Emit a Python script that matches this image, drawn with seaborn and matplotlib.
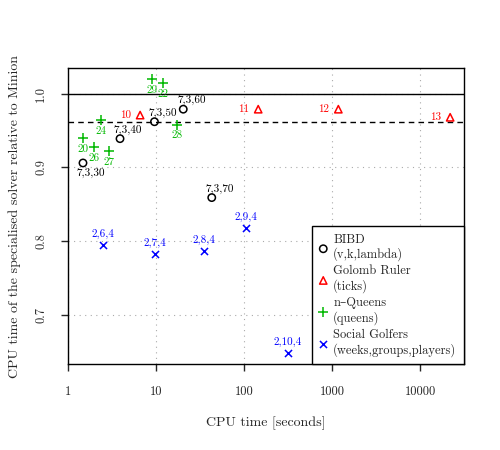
import numpy as np
import pandas as pd
import seaborn as sns
import matplotlib.pyplot as plt

# BIBD (v,k,lambda)
bibd_time = [1.48, 3.9, 9.6, 20.4, 43.0]
bibd_ratio = [0.906, 0.939, 0.962, 0.979, 0.859]
bibd_names = ["7,3,30", "7,3,40", "7,3,50", "7,3,60", "7,3,70"]

# Golomb ruler (ticks)
golomb_time = [6.6, 145, 1180, 22000]
golomb_ratio = [0.971, 0.979, 0.979, 0.968]
golomb_names = ["10", "11", "12", "13"]

# n-Queens (queens)
queens_time = [1.47, 2.39, 1.96, 2.92, 9.1, 12.1, 17.5]
queens_ratio = [0.940, 0.964, 0.927, 0.922, 1.020, 1.0145, 0.958]
queens_names = ["20", "24", "26", "27", "29", "22", "28"]

# Social golfers (weeks,groups,players)
golf_time = [2.48, 9.8, 35, 105, 314]
golf_ratio = [0.795, 0.7825, 0.787, 0.818, 0.648]
golf_names = ["2,6,4", "2,7,4", "2,8,4", "2,9,4", "2,10,4"]

mean_ratio = 0.962

x_ticks = [1, 10, 100, 1000, 10000]
y_ticks = [0.7, 0.8, 0.9, 1.0]

sns.set_style("ticks")
plt.rcParams['font.family'] = ['cmr10', 'DejaVu Serif']
plt.rcParams['mathtext.fontset'] = 'cm'
plt.rcParams['axes.unicode_minus'] = False

fig = plt.figure(figsize=(5, 4.5), dpi=100)
ax = fig.add_axes([0.136, 0.191, 0.792, 0.658])

GREEN = "#00b800"
BLUE = "#0000ff"
RED = "#ff0000"

# series: data, marker, colour, label text offset (pixels), legend text
series = [
    (bibd_time, bibd_ratio, bibd_names, "o", "black", (8, 9), "BIBD\n(v,k,lambda)"),
    (golomb_time, golomb_ratio, golomb_names, "^", RED, (-9, 0), "Golomb Ruler\n(ticks)"),
    (queens_time, queens_ratio, queens_names, "+", GREEN, (0, -11), "n\u2013Queens\n(queens)"),
    (golf_time, golf_ratio, golf_names, "x", BLUE, (0, 11), "Social Golfers\n(weeks,groups,players)"),
]

ax.axhline(1.0, color="black", lw=1.0, zorder=1)
ax.axhline(mean_ratio, color="black", lw=1.0, ls=(0, (4, 3)), zorder=1)

for xs, ys, names, mk, col, off, lab in series:
    df = pd.DataFrame({"t": xs, "r": ys})
    if mk in ("o", "^"):
        sns.scatterplot(data=df, x="t", y="r", ax=ax, marker=mk, s=28,
                        facecolors="none", edgecolor=col, linewidth=1.1,
                        label=lab, zorder=3)
    elif mk == "x":
        sns.scatterplot(data=df, x="t", y="r", ax=ax, marker=mk, s=26,
                        color=col, linewidth=1.1, label=lab, zorder=3)
    else:
        sns.scatterplot(data=df, x="t", y="r", ax=ax, marker=mk, s=45,
                        color=col, linewidth=1.1, label=lab, zorder=3)
    for x, y, n in zip(xs, ys, names):
        dx, dy = off
        if n == "7,3,30":
            dy = -10
        ha = "right" if dx < 0 else "center"
        ax.annotate(n, (x, y), xytext=(dx, dy), textcoords="offset pixels",
                    ha=ha, va="center", fontsize=8, color=col)

ax.set_xscale("log")
ax.set_xlim(1, 31600)
ax.set_ylim(0.633, 1.035)
ax.set_xticks(x_ticks)
ax.set_xticklabels([str(v) for v in x_ticks])
ax.xaxis.set_minor_locator(plt.NullLocator())
ax.set_yticks(y_ticks)
ax.set_yticklabels(["%.1f" % v for v in y_ticks], rotation=90, va="center")
ax.tick_params(axis="both", direction="out", length=5, width=1, labelsize=9)
ax.tick_params(axis="x", pad=11)
ax.tick_params(axis="y", pad=10)
ax.grid(True, ls=(0, (1, 4)), color="#aaaaaa", lw=0.8)
for s in ax.spines.values():
    s.set_linewidth(1.0)
    s.set_color("black")

ax.set_xlabel("CPU time [seconds]", fontsize=10, labelpad=13)
ax.set_ylabel("CPU time of the specialised solver relative to Minion", fontsize=10, labelpad=10)

leg = ax.legend(loc="lower right", borderaxespad=0, fontsize=9, frameon=True,
                fancybox=False, handlelength=0.6, handletextpad=0.5,
                labelspacing=0.3, borderpad=0.6)
leg.get_frame().set_edgecolor("black")
leg.get_frame().set_linewidth(1.0)
leg.get_frame().set_alpha(1)

fig.savefig("out.png", dpi=100)
